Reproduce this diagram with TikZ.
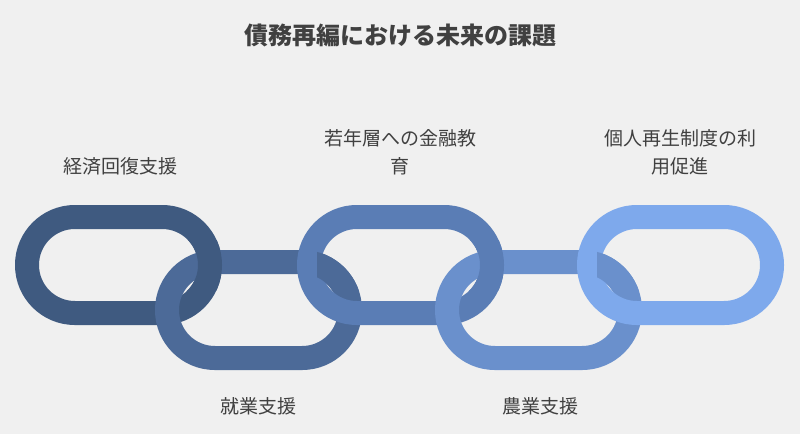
\documentclass[tikz,border=0pt]{standalone}
\usepackage{fontspec}
\setmainfont{Noto Sans CJK JP}
\begin{document}
\begin{tikzpicture}[x=1pt,y=-1pt,
  link/.style={line width=24pt,rounded corners=47.9pt},
  lbl/.style={font=\fontsize{19}{28}\selectfont,text=black!75,align=center}]
\fill[black!6] (0,0) rectangle (800,434);
\useasboundingbox (0,0) rectangle (800,434);
\definecolor{c1}{HTML}{3F5A80}\definecolor{c2}{HTML}{4C6A98}
\definecolor{c3}{HTML}{5A7DB5}\definecolor{c4}{HTML}{6A90CC}
\definecolor{c5}{HTML}{7EA9EC}
\newcommand{\lnk}[3]{\draw[link,#3] (#1,#2) rectangle ++(183,96);}
\lnk{27}{217}{c1}
\lnk{167}{262}{c2}
\lnk{309}{217}{c3}
\lnk{447}{262}{c4}
\lnk{589}{217}{c5}
\foreach \x/\c in {27/c1,309/c3}{
  \begin{scope}
  \clip (\x+150,240) rectangle (\x+240,290);
  \lnk{\x}{217}{\c}
  \end{scope}}
\foreach \x/\c in {167/c2,447/c4}{
  \begin{scope}
  \clip (\x+150,240) rectangle (\x+240,290);
  \lnk{\x}{262}{\c}
  \end{scope}}
\node[font=\bfseries\fontsize{24}{28}\selectfont,text=black!75] (t) at (400,35) {債務再編における未来の課題};
\node[lbl] (a) at (120,166) {経済回復支援};
\node[lbl] (b) at (400,152) {若年層への金融教\\育};
\node[lbl] (c) at (680,152) {個人再生制度の利\\用促進};
\node[lbl] (d) at (258,406) {就業支援};
\node[lbl] (e) at (540,406) {農業支援};
\end{tikzpicture}
\end{document}
